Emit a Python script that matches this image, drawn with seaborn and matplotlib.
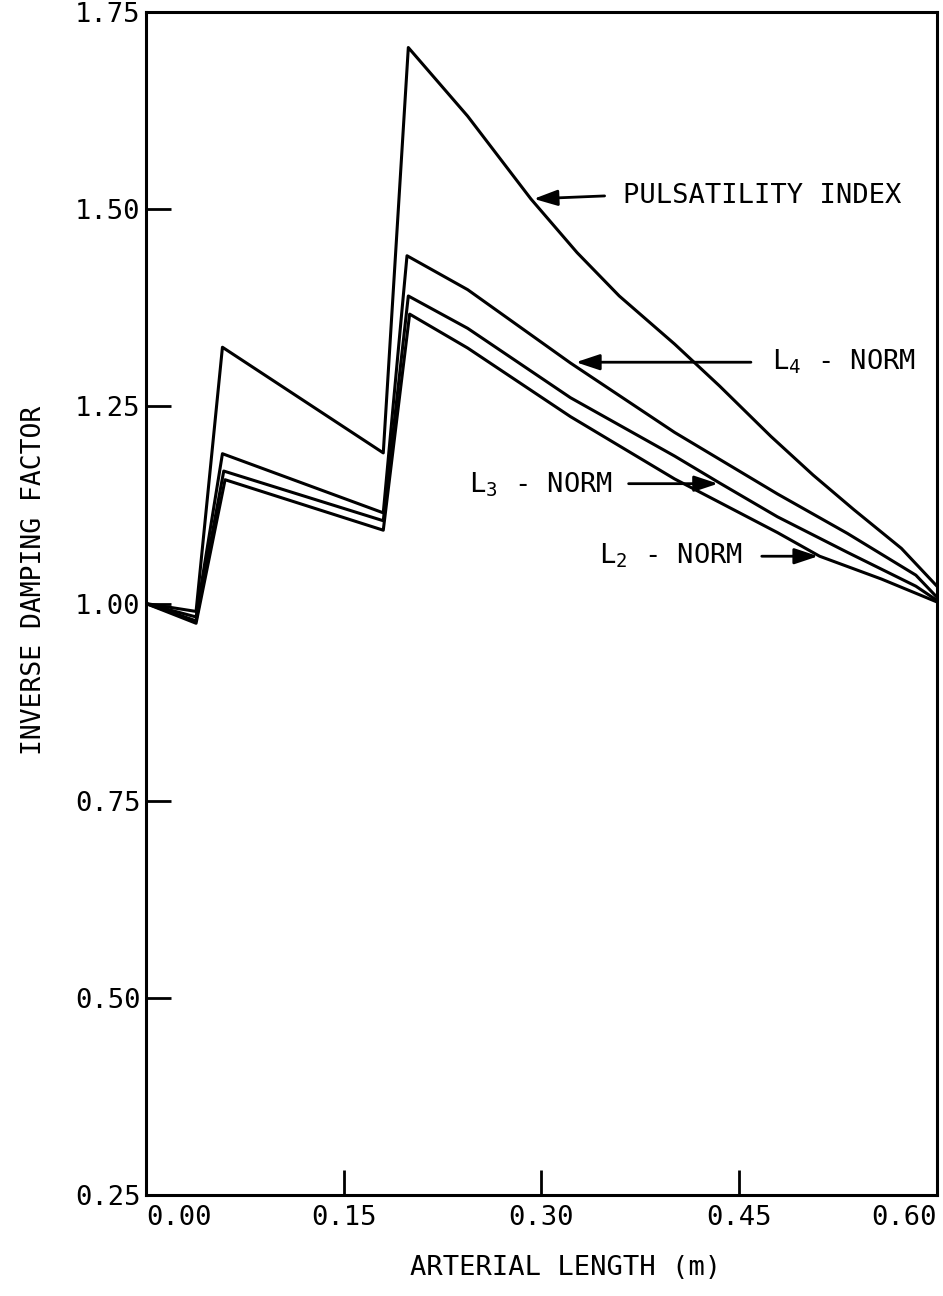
import pandas as pd
import matplotlib
matplotlib.use("Agg")
import matplotlib.pyplot as plt
import seaborn as sns

# values (x in m, y = inverse damping factor)
pi_x = [0.0, 0.038, 0.058, 0.180, 0.199, 0.244, 0.292, 0.327, 0.359, 0.401, 0.435, 0.474, 0.506, 0.537, 0.573, 0.600]
pi_y = [1.00, 0.990, 1.325, 1.191, 1.705, 1.618, 1.513, 1.445, 1.390, 1.329, 1.276, 1.212, 1.163, 1.119, 1.070, 1.022]

l4_x = [0.0, 0.038, 0.058, 0.180, 0.198, 0.244, 0.322, 0.401, 0.479, 0.532, 0.584, 0.600]
l4_y = [1.00, 0.983, 1.190, 1.115, 1.441, 1.398, 1.305, 1.217, 1.139, 1.089, 1.036, 1.008]

l3_x = [0.0, 0.038, 0.059, 0.180, 0.199, 0.244, 0.322, 0.401, 0.435, 0.479, 0.532, 0.584, 0.600]
l3_y = [1.00, 0.978, 1.168, 1.105, 1.390, 1.349, 1.261, 1.187, 1.153, 1.110, 1.065, 1.022, 1.004]

l2_x = [0.0, 0.038, 0.060, 0.180, 0.200, 0.244, 0.322, 0.401, 0.479, 0.511, 0.558, 0.600]
l2_y = [1.00, 0.975, 1.157, 1.093, 1.367, 1.324, 1.237, 1.158, 1.090, 1.060, 1.031, 1.002]

x_ticks = [0.00, 0.15, 0.30, 0.45, 0.60]
y_ticks = [0.25, 0.50, 0.75, 1.00, 1.25, 1.50, 1.75]


def build_frame():
    parts = []
    for name, xs, ys in [("PI", pi_x, pi_y), ("L4", l4_x, l4_y),
                         ("L3", l3_x, l3_y), ("L2", l2_x, l2_y)]:
        parts.append(pd.DataFrame({"x": xs, "y": ys, "series": name}))
    return pd.concat(parts, ignore_index=True)


data = build_frame()

sns.set_theme(style="white")
plt.rcParams["font.family"] = ["DejaVu Sans Mono", "DejaVu Sans"]

fig = plt.figure(figsize=(9.43, 12.96), dpi=100)
ax = fig.add_axes([0.1548, 0.0779, 0.8388, 0.9128])

sns.lineplot(data=data, x="x", y="y", hue="series", units="series",
             estimator=None, sort=False, palette=["black"] * 4,
             linewidth=2.2, legend=False, ax=ax)

ax.set_xlim(0, 0.60)
ax.set_ylim(0.25, 1.75)
ax.set_xticks(x_ticks)
ax.set_xticklabels([f"{v:.2f}" for v in x_ticks])
ax.set_yticks(y_ticks)
ax.set_yticklabels([f"{v:.2f}" for v in y_ticks])
ax.tick_params(direction="in", length=18, width=2, color="black",
               labelsize=19.5, labelcolor="black", bottom=True, left=True)
ax.tick_params(axis="x", pad=7)
ax.tick_params(axis="y", pad=4)
xl = ax.get_xticklabels()
xl[0].set_ha("left")
xl[-1].set_ha("right")
for s in ax.spines.values():
    s.set_color("black")
    s.set_linewidth(2.2)

ax.set_xlabel("ARTERIAL LENGTH (m)", fontsize=19.5, color="black", va="top")
ax.xaxis.set_label_coords(0.53, -0.051)
ax.set_ylabel("INVERSE DAMPING FACTOR", fontsize=19, color="black")
ax.yaxis.set_label_coords(-0.125, 0.52)

arrow = dict(arrowstyle="-|>,head_length=0.6,head_width=0.2", color="black",
             lw=2, mutation_scale=24)
txt = dict(fontsize=19.5, color="black", va="center", ha="left")

ax.annotate("", xy=(0.292, 1.513), xytext=(0.350, 1.517), arrowprops=arrow)
ax.text(0.362, 1.517, "PULSATILITY INDEX", **txt)

ax.annotate("", xy=(0.324, 1.306), xytext=(0.461, 1.306), arrowprops=arrow)
ax.text(0.475, 1.306, r"L$\mathregular{_4}$ - NORM", **txt)

ax.annotate("", xy=(0.436, 1.152), xytext=(0.364, 1.152), arrowprops=arrow)
ax.text(0.245, 1.150, r"L$\mathregular{_3}$ - NORM", **txt)

ax.annotate("", xy=(0.512, 1.060), xytext=(0.465, 1.060), arrowprops=arrow)
ax.text(0.344, 1.060, r"L$\mathregular{_2}$ - NORM", **txt)

fig.savefig("out.png", dpi=100)
